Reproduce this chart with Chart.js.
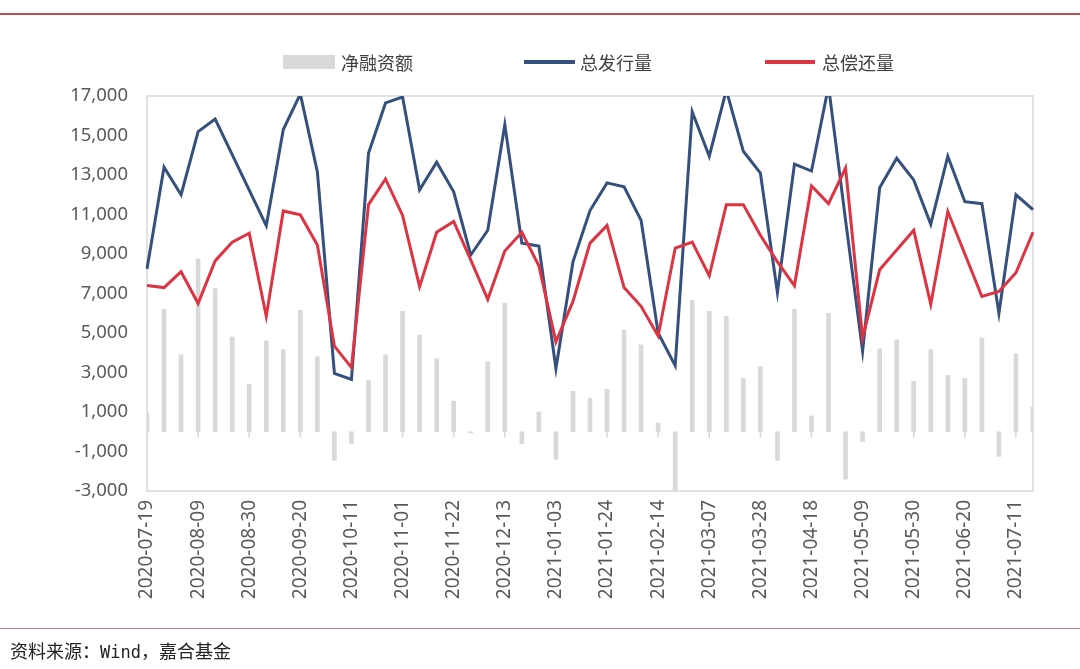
<!DOCTYPE html>
<html>
<head>
<meta charset="utf-8">
<script src="https://cdn.jsdelivr.net/npm/chart.js@4.4.1/dist/chart.umd.min.js"></script>
<style>
  html, body { margin:0; padding:0; background:#fff; }
  #wrap { position:relative; width:1080px; height:669px; overflow:hidden; background:#fff;
          font-family:"Noto Sans CJK SC","Liberation Sans",Arial,sans-serif; }
  #c { position:absolute; left:0; top:0; }
  .rule { position:absolute; left:0; width:1080px; }
  .lg-text { position:absolute; top:51px; height:22px; line-height:22px; font-size:18px; color:#404040; }
  .lg-mark { position:absolute; }
  #src { position:absolute; left:10px; top:637px; font-size:18px; color:#222; line-height:26px; }
  #src .mono { font-family:"DejaVu Sans Mono","Liberation Mono",monospace; font-size:17px; }
</style>
</head>
<body>
<div id="wrap">
  <div class="rule" style="top:13px;height:2px;background:#c0504d;"></div>
  <canvas id="c" width="1080" height="669"></canvas>
  <div class="lg-mark" style="left:283px;top:55px;width:52px;height:14px;background:#d9d9d9;"></div>
  <div class="lg-text" style="left:341px;">净融资额</div>
  <div class="lg-mark" style="left:524px;top:60px;width:51px;height:3.5px;background:#35507c;"></div>
  <div class="lg-text" style="left:580px;">总发行量</div>
  <div class="lg-mark" style="left:765px;top:60px;width:50px;height:3.5px;background:#dd3444;"></div>
  <div class="lg-text" style="left:822px;">总偿还量</div>
  <div class="rule" style="top:628px;height:1px;background:#c77a7e;"></div>
  <div id="src">资料来源：<span class="mono">Wind</span>，嘉合基金</div>
</div>
<script>
const labels = [
  "2020-07-19","2020-07-26","2020-08-02","2020-08-09","2020-08-16","2020-08-23","2020-08-30",
  "2020-09-06","2020-09-13","2020-09-20","2020-09-27","2020-10-04","2020-10-11","2020-10-18",
  "2020-10-25","2020-11-01","2020-11-08","2020-11-15","2020-11-22","2020-11-29","2020-12-06",
  "2020-12-13","2020-12-20","2020-12-27","2021-01-03","2021-01-10","2021-01-17","2021-01-24",
  "2021-01-31","2021-02-07","2021-02-14","2021-02-21","2021-02-28","2021-03-07","2021-03-14",
  "2021-03-21","2021-03-28","2021-04-04","2021-04-11","2021-04-18","2021-04-25","2021-05-02",
  "2021-05-09","2021-05-16","2021-05-23","2021-05-30","2021-06-06","2021-06-13","2021-06-20",
  "2021-06-27","2021-07-04","2021-07-11","2021-07-18"
];
const netFinancing = [
  950,6200,3900,8750,7250,4800,2400,4600,4150,6150,3800,-1450,-600,2600,3900,6100,4900,3700,
  1550,-60,3550,6500,-600,1000,-1400,2050,1700,2150,5150,4400,450,-3100,6650,6100,5850,2700,
  3300,-1450,6200,800,6000,-2400,-500,4200,4650,2550,4150,2850,2700,4750,-1250,3950,1250
];
const totalIssuance = [
  8240,13400,12000,15200,15830,14030,12230,10430,15300,17100,13150,2950,2650,14100,16650,16950,
  12250,13650,12150,8950,10200,15550,9550,9400,3200,8600,11200,12600,12400,10700,5000,3350,16200,
  13950,17300,14200,13100,7050,13550,13200,17500,10700,4080,12350,13850,12750,10500,13950,11650,
  11550,6000,12000,11250
];
const totalRepayment = [
  7400,7300,8100,6500,8650,9600,10050,5850,11180,10980,9450,4330,3250,11500,12800,10950,7350,
  10100,10650,8700,6700,9150,10100,8400,4550,6600,9550,10450,7300,6350,4850,9300,9600,7900,11500,
  11500,9950,8600,7400,12450,11550,13350,4750,8200,9200,10200,6450,11150,9000,6850,7100,8050,10100
];
const yMin = -3000, yMax = 17000, yStep = 2000;
const labelEvery = 3;

const frame = {
  id: 'frame',
  beforeDatasetsDraw(chart) {
    const { ctx, chartArea: a, scales: { x, y } } = chart;
    ctx.save();
    ctx.strokeStyle = '#d9d9d9';
    ctx.lineWidth = 1.5;
    ctx.strokeRect(a.left, a.top, a.right - a.left, a.bottom - a.top);
    const y0 = y.getPixelForValue(0);
    for (let i = 0; i < labels.length; i += labelEvery) {
      const px = x.getPixelForValue(i);
      ctx.beginPath();
      ctx.moveTo(px, y0);
      ctx.lineTo(px, y0 + 6);
      ctx.stroke();
    }
    ctx.restore();
  }
};

const xFont = { family: '"Noto Sans", "Liberation Sans", Arial, sans-serif', size: 19 };
const yFont = { family: '"Noto Sans", "Liberation Sans", Arial, sans-serif', size: 18.5 };

new Chart(document.getElementById('c'), {
  data: {
    labels,
    datasets: [
      { type: 'line', label: '总偿还量', data: totalRepayment, borderColor: '#dd3444',
        borderWidth: 3, pointRadius: 0, tension: 0, order: 1 },
      { type: 'line', label: '总发行量', data: totalIssuance, borderColor: '#35507c',
        borderWidth: 3, pointRadius: 0, tension: 0, order: 2 },
      { type: 'bar', label: '净融资额', data: netFinancing, backgroundColor: '#d9d9d9',
        barThickness: 4, order: 3 }
    ]
  },
  options: {
    responsive: false,
    animation: false,
    layout: { padding: { left: 0, right: 47, top: 96, bottom: 0 } },
    plugins: { legend: { display: false }, tooltip: { enabled: false } },
    scales: {
      x: {
        type: 'category',
        offset: false,
        grid: { display: false, drawTicks: false },
        border: { display: false },
        afterFit(s) { s.height = 178; },
        ticks: {
          autoSkip: false, minRotation: 90, maxRotation: 90, padding: 9,
          color: '#595959', font: xFont,
          callback: (v, i) => (i % labelEvery === 0 ? labels[i] : '')
        }
      },
      y: {
        min: yMin, max: yMax,
        afterFit(s) { s.width = 147; },
        grid: {
          drawTicks: false,
          lineWidth: 2,
          color: (c) => (c.tick && c.tick.value === 0 ? '#d9d9d9' : 'rgba(0,0,0,0)')
        },
        border: { display: false },
        ticks: {
          stepSize: yStep, padding: 19, color: '#595959', font: yFont,
          callback: (v) => Number(v).toLocaleString('en-US')
        }
      }
    }
  },
  plugins: [frame]
});
</script>
</body>
</html>
